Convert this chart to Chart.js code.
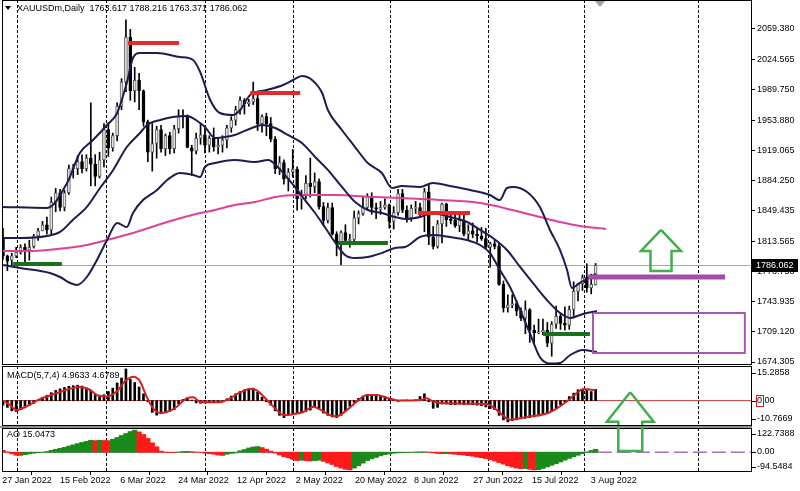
<!DOCTYPE html>
<html>
<head>
<meta charset="utf-8">
<title>XAUUSDm Daily</title>
<script src="https://cdn.jsdelivr.net/npm/chart.js@4.4.1/dist/chart.umd.min.js"></script>
<style>
  html, body { margin: 0; padding: 0; background: #fff; }
  #wrap { position: relative; width: 800px; height: 491px; overflow: hidden; background: #fff; }
  #wrap canvas { position: absolute; left: 0; top: 0; }
</style>
</head>
<body>
<div id="wrap">
  <canvas id="ao" width="800" height="491"></canvas>
  <canvas id="macd" width="800" height="491"></canvas>
  <canvas id="price" width="800" height="491"></canvas>
</div>
<script>
// XAUUSDm daily bars, 27 Jan 2022 .. 4 Aug 2022 (one entry per bar)
const opens = [
  1818, 1797, 1792,
  1797, 1801, 1807, 1804, 1808, 1820, 1826, 1833, 1827, 1859, 1870, 1853, 1870, 1898, 1898, 1906, 1898, 1910, 1903, 1889,
  1908, 1943, 1922, 1936, 1970, 1998, 2050, 1988, 2000, 1988, 1952, 1917, 1927, 1943, 1921, 1936, 1921, 1944, 1958, 1958, 1922, 1918, 1933,
  1937, 1925, 1933, 1923, 1925, 1931, 1945, 1954, 1966, 1977, 1973, 1975, 1979, 1950, 1958, 1950, 1932, 1898, 1905, 1886, 1894,
  1897, 1863, 1868, 1881, 1877, 1883, 1854, 1838, 1853, 1822, 1811, 1824, 1815, 1816, 1841, 1846, 1853, 1866, 1853, 1851, 1853, 1856,
  1837, 1847, 1869, 1850, 1841, 1852, 1853, 1848, 1871, 1819, 1808, 1834, 1857, 1839, 1838, 1832, 1838, 1822, 1826, 1822, 1820, 1817,
  1807, 1811, 1808, 1764, 1737, 1740, 1742, 1733, 1725, 1735, 1711, 1708, 1709, 1711, 1696, 1718, 1727, 1719, 1717, 1735, 1756,
  1765, 1772, 1760, 1763.617
];
const highs = [
  1829, 1798, 1800,
  1807, 1810, 1811, 1815, 1822, 1829, 1837, 1842, 1865, 1875, 1874, 1873, 1902, 1903, 1913, 1914, 1914, 1974, 1914, 1917,
  1950, 1951, 1939, 1974, 2002, 2070, 2059, 2015, 2008, 1989, 1954, 1950, 1947, 1948, 1938, 1940, 1948, 1966, 1966, 1960, 1925, 1939, 1950,
  1945, 1936, 1945, 1933, 1936, 1948, 1958, 1970, 1981, 1979, 1978, 1998, 1986, 1960, 1962, 1957, 1935, 1912, 1908, 1898, 1920,
  1900, 1873, 1890, 1910, 1893, 1886, 1859, 1858, 1858, 1825, 1826, 1833, 1822, 1849, 1849, 1865, 1869, 1870, 1858, 1860, 1863, 1857,
  1854, 1874, 1874, 1855, 1856, 1860, 1858, 1875, 1879, 1831, 1838, 1858, 1858, 1846, 1847, 1847, 1845, 1833, 1835, 1830, 1830, 1829,
  1813, 1815, 1812, 1768, 1752, 1752, 1745, 1737, 1745, 1736, 1717, 1724, 1724, 1720, 1721, 1739, 1731, 1738, 1739, 1767, 1765,
  1775, 1788, 1776, 1788.216
];
const lows = [
  1793, 1780, 1786,
  1795, 1799, 1789, 1792, 1806, 1815, 1826, 1822, 1821, 1848, 1849, 1849, 1868, 1887, 1891, 1893, 1895, 1878, 1878, 1887,
  1900, 1912, 1918, 1930, 1966, 1987, 1977, 1975, 1966, 1947, 1906, 1895, 1910, 1917, 1913, 1915, 1916, 1939, 1945, 1922, 1890, 1915, 1926,
  1916, 1917, 1918, 1915, 1917, 1922, 1940, 1948, 1961, 1961, 1970, 1972, 1942, 1940, 1936, 1929, 1892, 1891, 1880, 1872, 1888,
  1850, 1851, 1863, 1865, 1870, 1851, 1832, 1835, 1821, 1797, 1787, 1811, 1807, 1814, 1834, 1844, 1851, 1845, 1840, 1845, 1851, 1829,
  1828, 1844, 1847, 1836, 1837, 1846, 1842, 1825, 1810, 1805, 1806, 1812, 1831, 1834, 1830, 1825, 1820, 1816, 1818, 1813, 1815, 1805,
  1784, 1805, 1763, 1732, 1732, 1737, 1728, 1722, 1707, 1697, 1696, 1707, 1706, 1692, 1681, 1713, 1712, 1711, 1712, 1728, 1745,
  1757, 1755, 1753, 1763.371
];
const closes = [
  1797, 1791, 1797,
  1801, 1807, 1804, 1807, 1820, 1826, 1833, 1827, 1859, 1870, 1853, 1870, 1898, 1898.5, 1906, 1898, 1910, 1903, 1889, 1908,
  1943, 1922, 1936, 1970, 1998, 2050, 1988, 2000, 1988, 1952, 1917, 1927, 1943, 1921, 1936, 1921, 1944, 1958, 1958.5, 1922.5, 1918, 1933, 1937,
  1925, 1933, 1923, 1925, 1931, 1945, 1954, 1966, 1977, 1973, 1975, 1979, 1950, 1958, 1950, 1932, 1898, 1905, 1886, 1894, 1897,
  1863, 1868, 1881, 1877, 1883, 1854, 1838, 1853, 1822, 1811, 1824, 1815, 1816, 1841, 1846, 1853, 1866, 1853, 1851, 1853, 1856, 1837,
  1847, 1869, 1850, 1841, 1852, 1853, 1848, 1871, 1819, 1808, 1834, 1857, 1839, 1838, 1832, 1838, 1822, 1826, 1822, 1820, 1817, 1807,
  1811, 1808, 1764, 1737, 1740, 1742, 1733, 1725, 1735, 1711, 1708, 1709, 1711, 1696, 1718, 1727, 1719, 1717, 1735, 1756, 1765,
  1772, 1760, 1764, 1786.062
];

// Bollinger bands and the long MA as [bar, price]
const bbUpper = [[0,1853.6],[10.0,1852.4],[14.6,1881.3],[17.5,1916.0],[20.5,1931.0],[23.7,1948.4],[26.0,1962.2],[28.2,1996.9],
  [29.6,2025.8],[31.2,2031.6],[35.1,2031.6],[40.3,2027.0],[43.3,2023.5],[44.9,2009.7],[47.2,1977.3],[49.4,1962.2],[52.4,1959.9],
  [54.0,1965.7],[56.3,1983.1],[60.1,1988.8],[63.8,1994.6],[66.1,2000.4],[68.1,2005.0],[70.4,2000.4],[72.7,1985.4],[74.0,1965.7],
  [77.2,1942.6],[80.2,1922.9],[83.1,1904.4],[86.3,1892.9],[88.6,1875.5],[90.9,1877.8],[95.0,1876.7],[97.9,1881.3],[101.8,1877.8],
  [106.4,1873.2],[110.9,1867.4],[113.2,1861.6],[114.8,1875.5],[116.2,1876.7],[119.4,1870.9],[122.3,1853.6],[124.6,1827.0],
  [126.9,1803.8],[128.5,1780.7],[129.6,1759.9],[131.4,1765.7],[135.1,1776.1]];
const bbMiddle = [[0,1817.7],[3.9,1817.7],[10.0,1820.0],[13.0,1824.7],[15.9,1838.5],[19.1,1853.6],[22.1,1875.5],[25.1,1896.4],
  [28.2,1922.9],[31.2,1939.1],[32.8,1948.4],[35.8,1954.2],[38.7,1957.6],[41.9,1958.8],[44.9,1950.7],[46.0,1946.1],[48.3,1933.3],
  [50.6,1934.5],[52.8,1936.8],[56.7,1944.9],[59.0,1948.4],[62.0,1944.9],[64.9,1936.8],[68.1,1927.6],[71.1,1911.4],[74.0,1896.4],
  [77.2,1876.7],[80.2,1859.3],[83.1,1850.1],[86.3,1846.6],[89.3,1842.0],[91.6,1839.7],[95.0,1842.0],[97.9,1846.6],[101.8,1842.0],
  [105.7,1836.2],[108.7,1827.0],[111.6,1817.7],[114.8,1803.8],[117.8,1784.2],[120.7,1765.7],[123.9,1746.0],[126.9,1731.0],
  [129.2,1725.2],[132.1,1729.9],[135.3,1733.3]];
const bbLower = [[0,1786.5],[3.9,1783.0],[10.7,1777.2],[13.0,1772.6],[15.3,1765.7],[16.9,1763.4],[19.1,1772.6],[21.4,1792.3],
  [23.7,1815.4],[26.0,1835.1],[28.2,1830.4],[29.6,1846.6],[31.9,1861.6],[35.1,1873.2],[37.4,1884.8],[40.3,1892.9],[43.3,1890.6],
  [44.9,1888.2],[46.0,1899.8],[48.3,1904.4],[52.8,1907.9],[57.4,1905.6],[60.4,1907.9],[62.6,1899.8],[64.2,1890.6],[66.5,1876.7],
  [68.8,1861.6],[71.1,1846.6],[73.3,1830.4],[75.6,1813.1],[77.9,1798.1],[80.2,1794.6],[83.1,1795.7],[86.3,1800.4],[89.3,1806.2],
  [91.6,1807.3],[95.0,1818.9],[97.9,1821.2],[101.8,1818.9],[105.7,1815.4],[108.7,1809.6],[110.9,1800.4],[113.2,1780.7],
  [115.5,1761.0],[117.8,1734.4],[120.0,1707.9],[122.3,1680.1],[124.6,1672.5],[126.9,1673.2],[129.2,1682.4],[132.1,1688.2],
  [135.3,1685.9]];
const longMa = [[0,1802.7],[6.8,1802.7],[14.6,1806.2],[19.1,1809.6],[23.7,1815.4],[29.6,1823.5],[37.4,1836.2],[44.9,1846.6],
  [48.3,1850.1],[52.8,1855.9],[57.4,1859.3],[62.0,1865.1],[66.5,1867.4],[75.6,1867.4],[84.7,1865.1],[90.4,1863.9],[99.5,1861.6],
  [108.7,1858.2],[113.2,1853.6],[117.8,1847.8],[122.3,1842.0],[126.9,1836.2],[131.4,1831.6],[137.4,1828.1]];

// MACD(5,7,4): main value per bar, signal read as [bar, value]
const macdMain = [
  -2.0,-3.0,-4.5,-4.8,-4.0,-3.2,-2.2,-1.2,0.3,1.5,2.4,3.5,4.5,5.2,5.8,6.3,6.6,6.8,6.4,5.6,4.6,3.0,2.4,2.6,4.0,5.5,7.8,10.0,
  14.0,9.5,8.0,6.0,3.0,-0.5,-5.2,-6.4,-5.8,-5.2,-4.8,-4.0,-1.5,0.5,1.2,0.2,-1.0,-1.2,
  -1.0,-0.8,-0.6,-0.6,-0.4,0.8,2.0,3.0,4.0,4.8,5.3,5.5,3.8,1.5,-0.5,-2.0,-4.5,-6.5,-7.5,-6.5,-6.0,-5.5,-5.0,-4.8,-4.2,-2.8,
  -3.5,-5.5,-6.5,-7.2,-7.5,-6.5,-4.5,-2.5,-0.8,1.0,2.0,2.5,2.5,2.2,2.0,1.8,0.6,0.2,-0.3,
  0.2,0.3,0.2,0.4,1.8,3.0,-0.5,-3.4,-3.0,-1.5,-1.5,-1.8,-1.8,-1.6,-1.8,-1.7,-1.8,-2.0,-2.3,-2.8,-3.5,-4.0,-6.5,-8.5,-9.4,
  -8.8,-8.5,-8.0,-7.8,-7.5,-7.2,-6.8,-6.2,-5.8,-4.8,-3.4,-1.8,-0.5,1.8,3.3,4.8,5.0,5.0,4.0,4.9633
];
const macdSignal = [[-0.3,0.3],[1.6,-1.9],[3.1,-4.2],[5.4,-2.4],[8.4,0.6],[11.5,2.8],[14.5,4.8],[17.5,6.0],[19.8,4.8],
  [21.3,2.5],[23.6,1.8],[25.9,4.0],[27.8,8.5],[29.7,10.5],[31.2,8.5],[32.7,1.8],[34.2,-3.4],[35.8,-5.4],[37.3,-5.0],
  [39.6,-2.7],[41.8,1.0],[43.4,1.5],[44.9,-0.6],[49.4,-0.7],[51.7,1.0],[54.0,3.6],[56.3,5.1],[57.8,4.5],[60.1,0.3],
  [62.4,-4.2],[63.9,-6.4],[66.1,-6.0],[68.4,-5.0],[70.7,-2.7],[72.2,-3.9],[74.5,-6.4],[76.0,-6.9],[78.3,-4.2],[80.6,-0.4],
  [82.9,2.5],[85.2,2.5],[87.4,1.3],[90.4,0.0],[95.0,0.3],[96.5,1.0],[98.0,-0.4],[100.3,-1.2],[110.2,-1.5],[112.5,-4.2],
  [115.5,-8.4],[119.3,-7.2],[123.8,-5.7],[126.2,-3.4],[128.4,-0.4],[130.7,3.3],[132.2,5.1],[135.0,4.6789]];

// Awesome Oscillator per bar
const aoValues = [
  10,2,-8,-15,-16,-12,-8,-5,-2,0,4,10,15,20,25,32,38,44,50,55,61,59,61,60,59,66,75,85,95,105,112,103,90,70,48,28,6,1,-1,
  -1.5,1,4,5,3,1,0,
  -5,-7,-10,-14,-16,-10,-6,-3,8,14,22,27,29,24,16,6,-4,-14,-22,-28,-36,-42,-40,-42,-44,-42,-40,-46,-54,-62,-72,-80,-86,
  -89,-80,-68,-55,-42,-33,-26,-18,-12,-8,-5,-3,
  -2,-1,0,1,2,2,1,-3,-6,-7,-7,-8,-10,-12,-14,-17,-20,-24,-28,-32,-37,-44,-52,-60,-68,-75,-80,-83,-82,-86,-89,-88,-82,
  -74,-66,-58,-49,-40,-31,-23,-15,-7,2,9,15.0473
];

// axis labels
const priceTicks = [2059.380, 2024.565, 1989.750, 1953.880, 1919.065, 1884.250, 1849.435, 1813.565, 1778.750, 1743.935, 1709.120, 1674.305];
const macdRange = [-10.7669, 15.2858];
const aoRange = [-94.5484, 122.7388];
const xTickPos = [-0.2, 13.0, 26.7, 39.9, 53.3, 66.7, 80.2, 93.6, 107.1, 120.5, 133.9];
const xTickLabels = ['27 Jan 2022', '15 Feb 2022', '6 Mar 2022', '24 Mar 2022', '12 Apr 2022', '2 May 2022',
  '20 May 2022', '8 Jun 2022', '27 Jun 2022', '15 Jul 2022', '3 Aug 2022'];
const monthStarts = [3.2, 23.5, 46.0, 66.1, 88.2, 110.5, 132.3, 158.3];

// drawn levels: [fromBar, toBar, price]
const resistLevels = [[28.5, 40.1, 2043.2], [56.3, 67.7, 1985.4], [94.5, 106.4, 1846.6]];
const supportLevels = [[2.3, 13.4, 1787.6], [76.3, 87.7, 1811.9], [123.0, 133.7, 1706.7]];
const targetLevel = [133.3, 164.5, 1772.6];
const targetBox = [134.4, 169.0, 1731.0, 1684.7];
const arrowMain = { x: 149.9, tip: 1827.0, neck: 1802.7, base: 1779.6, head: 4.56, shaft: 2.4 };
const arrowOsc = { x: 142.9, tip: 3.73, neck: -9.3, base: -22.3, head: 5.35, shaft: 2.73 };

const X_MIN = -0.23, X_MAX = 170.4;
const PRICE_MIN = 1672.0, PRICE_MAX = 2092.9;
const FONT = '"Liberation Sans", Arial, sans-serif';

Chart.defaults.font.family = FONT;
Chart.defaults.font.size = 9;
Chart.defaults.color = '#000';

const N = closes.length;
const bars = closes.map((_, i) => i);
const xy = pairs => pairs.map(([x, y]) => ({ x, y }));

function line(points, color, width, order, extra) {
  return Object.assign({
    type: 'line', data: xy(points), borderColor: color, borderWidth: width,
    pointRadius: 0, fill: false, order
  }, extra || {});
}
function arrowPath(a) {
  return [[a.x, a.tip], [a.x + a.head, a.neck], [a.x + a.shaft, a.neck], [a.x + a.shaft, a.base],
    [a.x - a.shaft, a.base], [a.x - a.shaft, a.neck], [a.x - a.head, a.neck], [a.x, a.tip]];
}
function boxPath(b) {
  return [[b[0], b[2]], [b[1], b[2]], [b[1], b[3]], [b[0], b[3]], [b[0], b[2]]];
}

const xAxisHidden = { type: 'linear', min: X_MIN, max: X_MAX, offset: false, display: false };
const fitRight = s => { s.width = 49; s.paddingTop = 0; s.paddingBottom = 0; };
const common = {
  responsive: false, animation: false, events: [],
  plugins: { legend: { display: false }, tooltip: { enabled: false } }
};

// separators, pane frame and right-hand labels shared by the three panes
function panePlugin(paneLabels) {
  return {
    id: 'pane',
    beforeDatasetsDraw(chart) {
      const { ctx, chartArea: a, scales: { x } } = chart;
      ctx.save();
      ctx.strokeStyle = '#000';
      ctx.lineWidth = 1;
      ctx.setLineDash([3, 2]);
      monthStarts.forEach(m => {
        const px = Math.round(x.getPixelForValue(m)) + 0.5;
        ctx.beginPath();
        ctx.moveTo(px, a.top);
        ctx.lineTo(px, a.bottom);
        ctx.stroke();
      });
      ctx.restore();
    },
    afterDraw(chart) {
      const { ctx, chartArea: a, scales: { y } } = chart;
      ctx.save();
      ctx.strokeStyle = '#000';
      ctx.lineWidth = 1;
      ctx.strokeRect(a.left + 0.5, a.top + 0.5, a.right - a.left, a.bottom - a.top);
      if (paneLabels) {
        ctx.font = '9px ' + FONT;
        ctx.fillStyle = '#000';
        ctx.textBaseline = 'middle';
        paneLabels.forEach(([value, text, shift]) => {
          const py = Math.round(y.getPixelForValue(value) + shift);
          ctx.beginPath();
          ctx.moveTo(a.right + 1, py + 0.5);
          ctx.lineTo(a.right + 5, py + 0.5);
          ctx.stroke();
          ctx.fillText(text, a.right + 6, py);
        });
      }
      ctx.restore();
    }
  };
}

// ---------- price pane ----------
const last = N - 1;
const headerText = 'XAUUSDm,Daily  ' + [opens[last], highs[last], lows[last], closes[last]].map(v => v.toFixed(3)).join(' ');

new Chart(document.getElementById('price'), {
  type: 'bar',
  data: {
    datasets: [
      { data: bars.map(i => ({ x: i, y: [lows[i], highs[i]] })), backgroundColor: '#000',
        barThickness: 1, grouped: false, order: 9 },
      { data: bars.map(i => ({ x: i, y: [opens[i], closes[i]] })),
        backgroundColor: bars.map(i => closes[i] >= opens[i] ? '#e4e4e4' : '#000'),
        borderColor: bars.map(i => closes[i] >= opens[i] ? '#5a5a5a' : '#000'),
        borderWidth: 1, borderSkipped: false, barThickness: 3, minBarLength: 1, grouped: false, order: 8 },
      line(longMa, '#e0409a', 2, 7, { cubicInterpolationMode: 'monotone' }),
      line(bbUpper, '#1c1c50', 2, 6, { cubicInterpolationMode: 'monotone' }),
      line(bbMiddle, '#1c1c50', 2, 6, { cubicInterpolationMode: 'monotone' }),
      line(bbLower, '#1c1c50', 2, 6, { cubicInterpolationMode: 'monotone' }),
      ...resistLevels.map(l => line([[l[0], l[2]], [l[1], l[2]]], '#e42b2b', 4, 3, { borderCapStyle: 'butt' })),
      ...supportLevels.map(l => line([[l[0], l[2]], [l[1], l[2]]], '#1b6e1b', 4, 3, { borderCapStyle: 'butt' })),
      line([[targetLevel[0], targetLevel[2]], [targetLevel[1], targetLevel[2]]], '#a24ea8', 5, 2, { borderCapStyle: 'butt' }),
      line(boxPath(targetBox), '#a656b4', 2, 2, { borderJoinStyle: 'miter' }),
      line(arrowPath(arrowMain), '#3fae4d', 2.5, 1, { borderJoinStyle: 'miter' })
    ]
  },
  options: Object.assign({}, common, {
    layout: { padding: { left: 2, right: 0, top: 0, bottom: 127 } },
    scales: {
      x: xAxisHidden,
      y: {
        type: 'linear', position: 'right', min: PRICE_MIN, max: PRICE_MAX,
        afterBuildTicks: s => { s.ticks = priceTicks.map(v => ({ value: v })); },
        afterFit: fitRight,
        ticks: { callback: v => v.toFixed(3), padding: 2, autoSkip: false },
        grid: { drawOnChartArea: false, drawTicks: true, tickLength: 4, tickColor: '#000' },
        border: { display: false }
      }
    }
  }),
  plugins: [panePlugin(null), {
    id: 'priceExtras',
    beforeDatasetsDraw(chart) {
      const { ctx, chartArea: a, scales: { y } } = chart;
      const py = Math.round(y.getPixelForValue(closes[last])) + 0.5;
      ctx.save();
      ctx.strokeStyle = '#a8a8a8';
      ctx.lineWidth = 1;
      ctx.beginPath();
      ctx.moveTo(a.left, py);
      ctx.lineTo(a.right, py);
      ctx.stroke();
      ctx.restore();
    },
    afterDraw(chart) {
      const { ctx, chartArea: a, scales: { x, y } } = chart;
      ctx.save();
      // last price marker on the axis
      const py = Math.round(y.getPixelForValue(closes[last]));
      ctx.fillStyle = '#000';
      ctx.fillRect(a.right + 1, py - 6, 46, 13);
      ctx.fillStyle = '#fff';
      ctx.font = '9px ' + FONT;
      ctx.textBaseline = 'middle';
      ctx.fillText(closes[last].toFixed(3), a.right + 5, py + 0.5);
      // header
      ctx.fillStyle = '#000';
      ctx.beginPath();
      ctx.moveTo(5, 6); ctx.lineTo(11, 6); ctx.lineTo(8, 10); ctx.closePath();
      ctx.fill();
      ctx.fillText(headerText, 17, 9);
      // chart shift marker
      const sx = x.getPixelForValue(N);
      ctx.fillStyle = '#a0a0a0';
      ctx.beginPath();
      ctx.moveTo(sx - 5, a.top + 1); ctx.lineTo(sx + 5, a.top + 1); ctx.lineTo(sx, a.top + 7); ctx.closePath();
      ctx.fill();
      ctx.restore();
    }
  }]
});

// ---------- MACD pane ----------
const signalLast = macdSignal[macdSignal.length - 1][1];
new Chart(document.getElementById('macd'), {
  type: 'bar',
  data: {
    datasets: [
      line([[X_MIN, 0], [X_MAX, 0]], '#c43a3a', 1, 5),
      { data: bars.map(i => ({ x: i, y: macdMain[i] })), backgroundColor: '#000', barThickness: 2, grouped: false, order: 4 },
      line(macdSignal, '#d42020', 2, 2, { cubicInterpolationMode: 'monotone' }),
      line(arrowPath(arrowOsc), '#3fae4d', 2.5, 1, { borderJoinStyle: 'miter', clip: false })
    ]
  },
  options: Object.assign({}, common, {
    layout: { padding: { left: 2, right: 0, top: 366, bottom: 66 } },
    scales: {
      x: xAxisHidden,
      y: { type: 'linear', position: 'right', min: macdRange[0], max: macdRange[1], afterFit: fitRight,
        ticks: { display: false }, grid: { display: false }, border: { display: false } }
    }
  }),
  plugins: [panePlugin([[macdRange[1], macdRange[1].toFixed(4), 7], [0, '0.00', 0], [macdRange[0], macdRange[0].toFixed(4), -6]]), {
    id: 'macdExtras',
    afterDraw(chart) {
      const { ctx, chartArea: a, scales: { y } } = chart;
      ctx.save();
      const zy = Math.round(y.getPixelForValue(0));
      ctx.strokeStyle = '#d42020';
      ctx.lineWidth = 1;
      ctx.strokeRect(a.right + 5.5, zy - 5.5, 7, 11);
      ctx.fillStyle = '#000';
      ctx.font = '9px ' + FONT;
      ctx.textBaseline = 'middle';
      ctx.fillText('MACD(5,7,4) ' + macdMain[last].toFixed(4) + ' ' + signalLast.toFixed(4), 7, a.top + 10);
      ctx.restore();
    }
  }]
});

// ---------- AO pane ----------
new Chart(document.getElementById('ao'), {
  type: 'bar',
  data: {
    datasets: [
      line([[X_MIN, 0], [N - 0.5, 0]], '#8c7c9c', 1, 5),
      line([[N - 0.5, 0], [X_MAX, 0]], '#a070b8', 1.5, 5, { borderDash: [14, 5] }),
      { data: bars.map(i => ({ x: i, y: aoValues[i] })),
        backgroundColor: bars.map(i => (i > 0 && aoValues[i] >= aoValues[i - 1]) ? '#1a8a1a' : '#ff1a1a'),
        barThickness: 4.6, grouped: false, order: 3 }
    ]
  },
  options: Object.assign({}, common, {
    layout: { padding: { left: 2, right: 0, top: 428, bottom: 0 } },
    scales: {
      x: {
        type: 'linear', min: X_MIN, max: X_MAX, offset: false, position: 'bottom',
        afterBuildTicks: s => { s.ticks = xTickPos.map(v => ({ value: v })); },
        afterFit: s => { s.height = 20; s.paddingLeft = 0; s.paddingRight = 0; },
        ticks: { callback: (v, i) => xTickLabels[i], align: 'start', autoSkip: false, maxRotation: 0, padding: 0 },
        grid: { drawOnChartArea: false, drawTicks: true, tickLength: 4, tickColor: '#000' },
        border: { display: false }
      },
      y: { type: 'linear', position: 'right', min: aoRange[0], max: aoRange[1], afterFit: fitRight,
        ticks: { display: false }, grid: { display: false }, border: { display: false } }
    }
  }),
  plugins: [panePlugin([[aoRange[1], aoRange[1].toFixed(4), 6], [0, '0.00', 0], [aoRange[0], aoRange[0].toFixed(4), -4]]), {
    id: 'aoExtras',
    afterDraw(chart) {
      const { ctx, chartArea: a } = chart;
      ctx.save();
      ctx.fillStyle = '#909090';
      ctx.fillRect(0, a.top - 2, a.right + 1, 2);
      ctx.fillStyle = '#000';
      ctx.font = '9px ' + FONT;
      ctx.textBaseline = 'middle';
      ctx.fillText('AO ' + aoValues[last].toFixed(4), 7, a.top + 7);
      ctx.restore();
    }
  }]
});
</script>
</body>
</html>
